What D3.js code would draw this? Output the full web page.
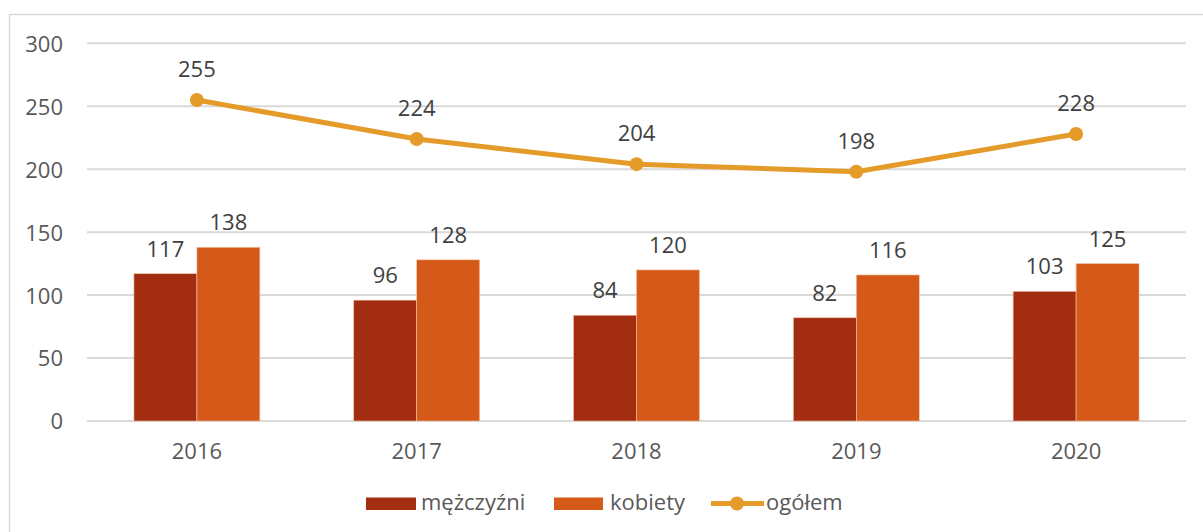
<!DOCTYPE html>
<meta charset="utf-8">
<style>
body { margin: 0; background: #fff; }
svg { display: block; }
text { font-family: "Open Sans", "Noto Sans", sans-serif; }
.axis text { font-size: 22px; fill: #595959; }
.axis path { display: none; }
.grid line { stroke: #d9d9d9; stroke-width: 2; }
.label { font-size: 22px; fill: #404040; text-anchor: middle; }
.legend text { font-size: 22px; fill: #595959; }
</style>
<body>
<svg width="1203" height="532"></svg>
<script src="https://cdn.jsdelivr.net/npm/d3@7"></script>
<script>

// data
var years = ["2016", "2017", "2018", "2019", "2020"];
var men = [117, 96, 84, 82, 103];
var women = [138, 128, 120, 116, 125];
var total = [255, 224, 204, 198, 228];
var yTicks = [0, 50, 100, 150, 200, 250, 300];

var colMen = "#a32d10",
    colWomen = "#d55a19",
    colTotal = "#e49b29";

var svg = d3.select("svg"),
    margin = {top: 43.3, left: 87, right: 17, bottom: 111},
    width = 1203 - margin.left - margin.right,
    height = 532 - margin.top - margin.bottom;

// outer frame
svg.append("rect")
    .attr("x", 9.5).attr("y", 14.5)
    .attr("width", 1210).attr("height", 540)
    .attr("fill", "none")
    .attr("stroke", "#d9d9d9")
    .attr("stroke-width", 1.5);

var g = svg.append("g").attr("transform", "translate(" + margin.left + "," + margin.top + ")");

var x = d3.scaleBand().domain(years).range([0, width]).paddingInner(0.427).paddingOuter(0.2135);
var y = d3.scaleLinear().domain([0, 300]).range([height, 0]);

// gridlines
g.append("g").attr("class", "grid")
  .selectAll("line").data(yTicks).enter().append("line")
    .attr("x1", 0).attr("x2", width)
    .attr("y1", function(d) { return y(d); })
    .attr("y2", function(d) { return y(d); });

// y axis
var yAxis = g.append("g").attr("class", "axis")
    .call(d3.axisLeft(y).tickValues(yTicks).tickSize(0).tickPadding(24));
yAxis.selectAll("text").attr("dy", "0.36em");

// x axis
var xAxis = g.append("g").attr("class", "axis")
    .attr("transform", "translate(0," + height + ")")
    .call(d3.axisBottom(x).tickSize(0).tickPadding(22));

var bw = x.bandwidth() / 2;

// bars
var series = [{vals: men, col: colMen, off: 0}, {vals: women, col: colWomen, off: bw}];
series.forEach(function(s) {
  g.append("g").selectAll("rect").data(s.vals).enter().append("rect")
      .attr("x", function(d, i) { return x(years[i]) + s.off; })
      .attr("y", function(d) { return y(d); })
      .attr("width", bw)
      .attr("height", function(d) { return height - y(d); })
      .attr("fill", s.col)
      .attr("stroke", "#f2c2a8")
      .attr("stroke-width", 0.6);

  g.append("g").selectAll("text").data(s.vals).enter().append("text")
      .attr("class", "label")
      .attr("x", function(d, i) { return x(years[i]) + s.off + bw / 2; })
      .attr("y", function(d) { return y(d) - 17; })
      .text(function(d) { return d; });
});

// total line
var cx = function(d, i) { return x(years[i]) + x.bandwidth() / 2; };
var line = d3.line()
    .x(cx)
    .y(function(d) { return y(d); });

g.append("path")
    .datum(total)
    .attr("d", line)
    .attr("fill", "none")
    .attr("stroke", colTotal)
    .attr("stroke-width", 5)
    .attr("stroke-linejoin", "round");

g.append("g").selectAll("circle").data(total).enter().append("circle")
    .attr("cx", cx)
    .attr("cy", function(d) { return y(d); })
    .attr("r", 7)
    .attr("fill", colTotal);

g.append("g").selectAll("text").data(total).enter().append("text")
    .attr("class", "label")
    .attr("x", cx)
    .attr("y", function(d) { return y(d) - 23; })
    .text(function(d) { return d; });

// legend
var lg = svg.append("g").attr("class", "legend");
lg.append("rect").attr("x", 366).attr("y", 497.5).attr("width", 50).attr("height", 12.5).attr("fill", colMen);
lg.append("text").attr("x", 421).attr("y", 510).text("mężczyźni");
lg.append("rect").attr("x", 554).attr("y", 497.5).attr("width", 49).attr("height", 12.5).attr("fill", colWomen);
lg.append("text").attr("x", 610).attr("y", 510).text("kobiety");
lg.append("line").attr("x1", 711).attr("x2", 764).attr("y1", 503.5).attr("y2", 503.5)
    .attr("stroke", colTotal).attr("stroke-width", 5);
lg.append("circle").attr("cx", 737).attr("cy", 503.5).attr("r", 7).attr("fill", colTotal);
lg.append("text").attr("x", 766).attr("y", 510).text("ogółem");

</script>
</body>
